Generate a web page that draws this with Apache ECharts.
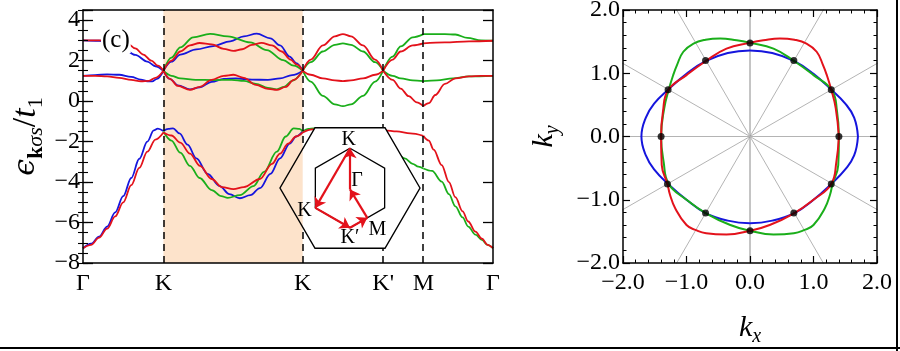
<!DOCTYPE html>
<html><head><meta charset="utf-8">
<script src="https://cdn.jsdelivr.net/npm/echarts@6/dist/echarts.min.js"></script>
<style>html,body{margin:0;padding:0;background:#fff}#c{width:900px;height:351px}</style>
</head><body><div id="c"></div>
<script>
// ---------------- data: band structure (left panel) ----------------
const pathPos = [0, 1, 2.732, 3.732, 4.232, 5.098];
const pathNames = ['Γ', 'K', 'K', "K'", 'M', 'Γ'];
const shadedFrom = 1, shadedTo = 2.732;
const energyMin = -8, energyMax = 4.5;

const blueBands = [
  [[0,3.0],[0.2,2.98],[0.35,2.85],[0.5,2.6],[0.65,2.28],[0.8,1.95],[0.9,1.72],[1.0,1.5]],
  [[0,1.25],[0.15,1.28],[0.3,1.32],[0.45,1.3],[0.6,1.2],[0.72,1.06],[0.8,0.98],[0.86,0.97],[0.92,1.1],[1.0,1.5]],
  [[1.0,1.5],[1.1,1.95],[1.21,2.3],[1.41,2.55],[1.62,2.72],[1.83,2.95],[2.0,3.2],[2.16,3.33],[2.33,3.1],[2.45,2.75],[2.57,2.2],[2.65,1.88],[2.732,1.5]],
  [[1.0,1.5],[1.08,1.1],[1.18,0.78],[1.33,0.58],[1.45,0.68],[1.6,0.95],[1.75,1.1],[1.9,1.12],[2.1,1.06],[2.3,1.05],[2.45,1.12],[2.6,1.28],[2.732,1.5]],
  [[0,-7.27],[0.1,-7.05],[0.2,-6.7],[0.3,-6.2],[0.4,-5.5],[0.5,-4.7],[0.6,-3.8],[0.7,-2.85],[0.8,-2.0],[0.88,-1.45],[0.93,-1.36],[1.0,-1.48]],
  [[1.0,-1.48],[1.06,-1.37],[1.12,-1.35],[1.2,-1.6],[1.3,-2.15],[1.41,-2.83],[1.55,-3.6],[1.7,-4.2],[1.82,-4.6],[1.95,-4.8],[2.08,-4.65],[2.2,-4.3],[2.33,-3.6],[2.45,-2.83],[2.57,-2.1],[2.65,-1.75],[2.732,-1.5]]
];
const greenBands = [
  [[1.0,1.5],[1.1,2.15],[1.21,2.65],[1.37,3.15],[1.58,3.32],[1.8,3.2],[2.08,2.9],[2.285,2.52],[2.49,2.02],[2.62,1.75],[2.732,1.5]],
  [[1.0,1.5],[1.1,1.25],[1.21,1.12],[1.4,1.05],[1.62,1.04],[1.85,1.05],[2.0,1.0],[2.15,0.85],[2.3,0.65],[2.41,0.58],[2.5,0.7],[2.6,1.0],[2.732,1.5]],
  [[2.732,1.5],[2.832,1.92],[2.982,2.45],[3.132,2.78],[3.232,2.85],[3.332,2.78],[3.482,2.45],[3.632,1.92],[3.732,1.5]],
  [[2.732,1.5],[2.832,0.96],[2.982,0.26],[3.132,-0.16],[3.232,-0.25],[3.332,-0.16],[3.482,0.26],[3.632,0.96],[3.732,1.5]],
  [[3.732,1.5],[3.85,2.2],[3.95,2.7],[4.1,3.15],[4.232,3.31]],
  [[4.232,3.31],[4.5,3.31],[4.63,3.29],[4.78,3.12],[4.95,3.0],[5.098,2.98]],
  [[3.732,1.5],[3.85,1.25],[3.95,1.12],[4.1,1.02],[4.232,0.99]],
  [[4.232,0.99],[4.4,1.02],[4.6,1.12],[4.8,1.22],[5.098,1.25]],
  [[1.0,-1.5],[1.1,-1.95],[1.21,-2.55],[1.33,-3.2],[1.45,-3.8],[1.6,-4.4],[1.72,-4.7],[1.8,-4.78],[1.95,-4.65],[2.12,-4.2],[2.25,-3.5],[2.41,-2.5],[2.52,-1.75],[2.62,-1.35],[2.69,-1.37],[2.732,-1.5]],
  [[2.732,-1.5],[2.8,-1.37],[2.87,-1.35],[3.0,-1.42],[3.2,-1.6],[3.4,-1.85],[3.6,-2.1],[3.75,-2.3],[3.88,-2.5],[4.0,-2.83],[4.1,-3.1],[4.17,-3.24],[4.232,-3.33]],
  [[4.232,-3.33],[4.34,-3.45],[4.46,-3.98],[4.55,-4.6],[4.63,-5.2],[4.72,-5.75],[4.79,-6.2],[4.88,-6.6],[4.96,-6.86],[5.03,-7.1],[5.098,-7.27]]
];
const redBands = [
  [[0,3.0],[0.2,3.0],[0.4,2.97],[0.55,2.85],[0.65,2.6],[0.75,2.3],[0.85,2.0],[0.93,1.75],[1.0,1.5]],
  [[0,1.25],[0.15,1.25],[0.3,1.22],[0.45,1.15],[0.6,1.05],[0.72,0.98],[0.82,1.0],[0.9,1.15],[1.0,1.5]],
  [[1.0,1.5],[1.1,2.0],[1.21,2.45],[1.33,2.75],[1.45,2.87],[1.6,2.8],[1.75,2.58],[1.87,2.48],[1.98,2.56],[2.1,2.78],[2.22,2.88],[2.35,2.75],[2.47,2.45],[2.58,2.05],[2.66,1.8],[2.732,1.5]],
  [[1.0,1.5],[1.08,1.1],[1.18,0.75],[1.33,0.55],[1.45,0.7],[1.6,1.05],[1.75,1.25],[1.87,1.3],[2.0,1.15],[2.15,0.8],[2.3,0.6],[2.41,0.55],[2.52,0.7],[2.62,1.05],[2.732,1.5]],
  [[2.732,1.5],[2.832,2.05],[2.982,2.75],[3.132,3.2],[3.232,3.31],[3.332,3.2],[3.482,2.75],[3.632,2.05],[3.732,1.5]],
  [[2.732,1.5],[2.832,1.3],[2.982,1.12],[3.132,1.02],[3.232,0.99],[3.332,1.02],[3.482,1.12],[3.632,1.3],[3.732,1.5]],
  [[3.732,1.5],[3.85,1.05],[3.95,0.62],[4.05,0.24],[4.15,-0.06],[4.232,-0.25]],
  [[4.232,-0.25],[4.3,-0.1],[4.38,0.3],[4.5,0.85],[4.63,1.12],[4.8,1.22],[4.95,1.25],[5.098,1.25]],
  [[3.732,1.5],[3.85,2.05],[3.95,2.45],[4.1,2.75],[4.232,2.85]],
  [[4.232,2.85],[4.5,2.9],[4.8,2.95],[5.098,2.98]],
  [[0,-7.27],[0.1,-7.1],[0.2,-6.75],[0.3,-6.3],[0.4,-5.7],[0.5,-5.0],[0.6,-4.15],[0.7,-3.3],[0.8,-2.5],[0.9,-1.9],[1.0,-1.55]],
  [[1.0,-1.55],[1.1,-1.7],[1.21,-2.05],[1.33,-2.6],[1.455,-3.2],[1.6,-3.85],[1.73,-4.25],[1.87,-4.35],[2.0,-4.25],[2.2,-3.85],[2.35,-3.1],[2.45,-2.6],[2.55,-2.1],[2.65,-1.75],[2.732,-1.55]],
  [[2.732,-1.55],[2.85,-1.4],[3.0,-1.35],[3.3,-1.38],[3.6,-1.42],[3.75,-1.45],[3.9,-1.5],[4.07,-1.6],[4.232,-1.72]],
  [[4.232,-1.72],[4.3,-1.95],[4.36,-2.4],[4.46,-3.16],[4.55,-4.0],[4.63,-4.75],[4.72,-5.45],[4.79,-5.95],[4.88,-6.45],[4.96,-6.8],[5.03,-7.1],[5.098,-7.27]]
];

// ---------------- data: Fermi contours (right panel) ----------------
const kTicks = [-2, -1, 0, 1, 2];
const fsBlue = [[1.70,0],[1.64,0.30],[1.50,0.52],[1.28,0.74],[1.00,0.99],[0.70,1.19],[0.35,1.32],[0,1.36],[-0.35,1.32],[-0.70,1.19],[-1.00,0.99],[-1.29,0.74],[-1.51,0.52],[-1.64,0.30],[-1.71,0],[-1.64,-0.30],[-1.51,-0.52],[-1.29,-0.75],[-1.00,-1.00],[-0.70,-1.21],[-0.35,-1.33],[0,-1.37],[0.35,-1.33],[0.70,-1.21],[1.00,-1.00],[1.28,-0.75],[1.50,-0.52],[1.64,-0.30],[1.70,0]];
const fsRed = [[1.40,0],[1.35,0.45],[1.28,0.74],[1.21,0.97],[1.15,1.13],[1.05,1.34],[0.89,1.47],[0.70,1.53],[0.47,1.55],[0.21,1.52],[0,1.48],[-0.37,1.39],[-0.70,1.19],[-1.00,0.97],[-1.29,0.73],[-1.37,0.40],[-1.40,0],[-1.39,-0.45],[-1.30,-0.75],[-1.26,-0.92],[-1.18,-1.13],[-1.00,-1.40],[-0.85,-1.48],[-0.69,-1.53],[-0.37,-1.55],[0,-1.49],[0.31,-1.40],[0.70,-1.21],[1.00,-1.00],[1.28,-0.75],[1.36,-0.40],[1.40,0]];
const fsGreen = [[1.40,0],[1.37,0.40],[1.29,0.73],[1.00,0.97],[0.70,1.19],[0.37,1.39],[0,1.48],[-0.21,1.52],[-0.47,1.55],[-0.70,1.53],[-0.89,1.47],[-1.05,1.34],[-1.15,1.13],[-1.21,0.97],[-1.28,0.74],[-1.35,0.45],[-1.40,0],[-1.36,-0.40],[-1.28,-0.75],[-1.00,-1.00],[-0.70,-1.21],[-0.31,-1.40],[0,-1.49],[0.37,-1.55],[0.69,-1.53],[0.85,-1.48],[1.00,-1.40],[1.18,-1.13],[1.26,-0.92],[1.30,-0.75],[1.39,-0.45],[1.40,0]];
const fsDots = [[1.40,0],[1.28,0.74],[0.69,1.20],[0,1.48],[-0.70,1.20],[-1.29,0.74],[-1.40,0],[-1.30,-0.75],[-0.70,-1.21],[0,-1.49],[0.69,-1.21],[1.28,-0.75]];
const guideAngles = [0, 30, 60, 90, 120, 150];

// ---------------- inset: Brillouin zone ----------------
const outerHex = [[1,0],[0.5,0.866],[-0.5,0.866],[-1,0],[-0.5,-0.866],[0.5,-0.866]];
const innerHex = [[0,0.571],[0.495,0.286],[0.495,-0.286],[0,-0.571],[-0.495,-0.286],[-0.495,0.286]];
const bzPath = [[0,-0.02],[0,0.571],[-0.495,-0.286],[0,-0.571],[0.2475,-0.4285],[0,-0.02]];
const bzLabels = [['K',-0.02,0.70],['Γ',0.10,0.10],['K',-0.65,-0.33],['K′',0,-0.72],['M',0.39,-0.60]];

// ---------------- layout / style ----------------
const SERIF = "Liberation Serif";
const RED = '#e3121b', GREEN = '#1aae1a', BLUE = '#1515dd', SHADE = '#fde3cb';
const L0 = 83, T0 = 10, W0 = 410, H0 = 253;
const L1 = 623, T1 = 10, W1 = 254, H1 = 253;
const LI = 280, TI = 127.7, WI = 140, HI = 120.6;
const minus = v => (v < 0 ? '−' + (-v) : String(v));

const chart = echarts.init(document.getElementById('c'));
const series = [];

series.push({type:'line', xAxisIndex:0, yAxisIndex:0, data:[[shadedFrom, energyMin]], symbol:'none', lineStyle:{opacity:0}, z:1, silent:true,
  markArea:{silent:true, itemStyle:{color:SHADE}, data:[[{xAxis:shadedFrom},{xAxis:shadedTo}]]}});
series.push({type:'line', xAxisIndex:0, yAxisIndex:0, data:[[shadedFrom, energyMin]], symbol:'none', lineStyle:{opacity:0}, z:2, silent:true,
  markLine:{silent:true, symbol:['none','none'], label:{show:false}, lineStyle:{color:'#000', type:[7,5], width:1.5},
    data: pathPos.slice(1,5).map(v => ({xAxis:v}))}});

function bands(list, color) {
  list.forEach(seg => series.push({type:'line', xAxisIndex:0, yAxisIndex:0, data:seg, symbol:'none', smooth:0.35, smoothMonotone:'x',
    lineStyle:{color, width:1.8}, z:3, silent:true}));
}
bands(blueBands, BLUE); bands(greenBands, GREEN); bands(redBands, RED);

guideAngles.forEach(a => {
  const c = Math.cos(a*Math.PI/180), s = Math.sin(a*Math.PI/180);
  series.push({type:'line', xAxisIndex:2, yAxisIndex:4, data:[[-3*c,-3*s],[3*c,3*s]], symbol:'none', clip:true,
    lineStyle:{color: a===90 ? '#8a8a8a' : '#b4b4b4', width:1}, z:1, silent:true});
});
[[fsBlue,BLUE],[fsGreen,GREEN],[fsRed,RED]].forEach(([d,col]) => series.push({type:'line', xAxisIndex:2, yAxisIndex:4, data:d, symbol:'none', smooth:0.45,
  lineStyle:{color:col, width:2}, z:3, silent:true}));
series.push({type:'scatter', xAxisIndex:2, yAxisIndex:4, data:fsDots, symbolSize:7, itemStyle:{color:'#000'}, z:5, silent:true});

series.push({type:'custom', coordinateSystem:'cartesian2d', xAxisIndex:4, yAxisIndex:6, data:[[0,0]], z:10, silent:true, clip:false,
  renderItem: (params, api) => {
    const o = outerHex.map(p => api.coord(p));
    const inr = innerHex.map(p => api.coord(p));
    const kPx = L0 + (shadedTo - pathPos[0]) / (pathPos[5] - pathPos[0]) * W0;
    const v0 = o[3], v1 = o[2], v5 = o[4];
    const t = (kPx - v0[0]) / (v1[0] - v0[0]);
    const a = [v0[0] + t*(v1[0]-v0[0]), v0[1] + t*(v1[1]-v0[1])];
    const b = [v0[0] + t*(v5[0]-v0[0]), v0[1] + t*(v5[1]-v0[1])];
    const children = [
      {type:'polygon', shape:{points:o}, style:{fill:'#fff'}},
      {type:'polygon', shape:{points:[v0,a,b]}, style:{fill:SHADE}},
      {type:'polygon', shape:{points:o}, style:{fill:'transparent', stroke:'#000', lineWidth:1.4}},
      {type:'polygon', shape:{points:inr}, style:{fill:'transparent', stroke:'#000', lineWidth:1.3}}
    ];
    bzLabels.forEach(l => {
      const p = api.coord([l[1], l[2]]);
      children.push({type:'text', x:p[0], y:p[1], z2:20, style:{text:l[0], fontFamily:SERIF, fontSize:20, fill:'#000', align:'center', verticalAlign:'middle'}});
    });
    return {type:'group', children};
  }});
const arrowData = [];
for (let i = 0; i < bzPath.length - 1; i++) arrowData.push({coords:[bzPath[i], bzPath[i+1]]});
series.push({type:'lines', coordinateSystem:'cartesian2d', xAxisIndex:4, yAxisIndex:6, data:arrowData, symbol:['none','arrow'], symbolSize:10,
  lineStyle:{color:RED, width:2.2, opacity:1}, z:12, silent:true});

const axisLine = {show:true, onZero:false, lineStyle:{color:'#000', width:1.5}};
const lbl = {color:'#000', fontFamily:SERIF, fontSize:24};
const it = (size, lh, extra) => Object.assign({fontFamily:SERIF, fontStyle:'italic', fontSize:size, lineHeight:lh, color:'#000'}, extra || {});
const sub = {verticalAlign:'bottom'};

const option = {
  animation:false,
  backgroundColor:'#fff',
  textStyle:{fontFamily:SERIF},
  grid:[
    {left:L0, top:T0, width:W0, height:H0, outerBoundsMode:'none'},
    {left:L1, top:T1, width:W1, height:H1, outerBoundsMode:'none'},
    {left:LI, top:TI, width:WI, height:HI, outerBoundsMode:'none'}
  ],
  xAxis:[
    {gridIndex:0, type:'value', min:pathPos[0], max:pathPos[5], position:'bottom', z:10, axisLine, axisTick:{show:false}, splitLine:{show:false},
      axisLabel:{...lbl, margin:9, customValues:pathPos, formatter:v => { const i = pathPos.findIndex(p => Math.abs(p-v) < 1e-6); return i >= 0 ? pathNames[i] : ''; }}},
    {gridIndex:0, type:'value', min:pathPos[0], max:pathPos[5], position:'top', z:10, axisLine, axisTick:{show:false}, axisLabel:{show:false}, splitLine:{show:false}},
    {gridIndex:1, type:'value', min:-2, max:2, interval:1, position:'bottom', z:10, axisLine,
      axisTick:{show:true, inside:true, length:7, lineStyle:{color:'#000', width:1.2}},
      minorTick:{show:true, splitNumber:5, length:3.5, lineStyle:{color:'#000', width:1}},
      splitLine:{show:false}, minorSplitLine:{show:false},
      axisLabel:{...lbl, margin:8, formatter:v => (v < 0 ? '−' + (-v).toFixed(1) : v.toFixed(1))},
      name:'{k|k}{s|x}', nameLocation:'middle', nameGap:46,
      nameTextStyle:{fontFamily:SERIF, fontStyle:'italic', fontSize:30, color:'#000', rich:{k:it(30,38), s:it(20,18,sub)}}},
    {gridIndex:1, type:'value', min:-2, max:2, interval:1, position:'top', z:10, axisLine,
      axisTick:{show:true, inside:true, length:7, lineStyle:{color:'#000', width:1.2}},
      minorTick:{show:true, splitNumber:5, length:3.5, lineStyle:{color:'#000', width:1}},
      splitLine:{show:false}, axisLabel:{show:false}},
    {gridIndex:2, type:'value', min:-1, max:1, show:false}
  ],
  yAxis:[
    {gridIndex:0, type:'value', min:energyMin, max:energyMax, interval:2, position:'left', z:10, axisLine,
      axisTick:{show:true, inside:true, length:10, lineStyle:{color:'#000', width:1.3}}, splitLine:{show:false},
      axisLabel:{...lbl, margin:3, formatter:v => (v % 2 === 0 ? minus(v) : '')},
      name:'{e|ϵ}{b|k}{c|σs}{a|/}{t|t}{o|1}', nameLocation:'middle', nameRotate:90, nameGap:36,
      nameTextStyle:{fontFamily:SERIF, fontSize:34, color:'#000', rich:{
        e:it(34,42,{fontFamily:'DejaVu Serif', fontSize:30}), b:it(22,18,{fontStyle:'normal', fontWeight:'bold', verticalAlign:'bottom'}), c:it(22,18,sub),
        a:it(34,42,{fontStyle:'normal'}), t:it(34,42), o:it(22,18,{fontStyle:'normal', verticalAlign:'bottom'})}}},
    {gridIndex:0, type:'value', min:energyMin, max:energyMax, interval:0.5, position:'left', z:10, axisLine:{show:false},
      axisTick:{show:true, inside:true, length:5, lineStyle:{color:'#000', width:1.1}}, splitLine:{show:false}, axisLabel:{show:false}},
    {gridIndex:0, type:'value', min:energyMin, max:energyMax, interval:2, position:'right', z:10, axisLine,
      axisTick:{show:true, inside:true, length:10, lineStyle:{color:'#000', width:1.3}}, splitLine:{show:false}, axisLabel:{show:false}},
    {gridIndex:0, type:'value', min:energyMin, max:energyMax, interval:0.5, position:'right', z:10, axisLine:{show:false},
      axisTick:{show:true, inside:true, length:5, lineStyle:{color:'#000', width:1.1}}, splitLine:{show:false}, axisLabel:{show:false}},
    {gridIndex:1, type:'value', min:-2, max:2, interval:1, position:'left', z:10, axisLine,
      axisTick:{show:true, inside:true, length:7, lineStyle:{color:'#000', width:1.2}},
      minorTick:{show:true, splitNumber:5, length:3.5, lineStyle:{color:'#000', width:1}},
      splitLine:{show:false}, axisLabel:{...lbl, margin:3, formatter:v => (v < 0 ? '−' + (-v).toFixed(1) : v.toFixed(1))},
      name:'{k|k}{s|y}', nameLocation:'middle', nameRotate:90, nameGap:60,
      nameTextStyle:{fontFamily:SERIF, fontStyle:'italic', fontSize:30, color:'#000', rich:{k:it(30,38), s:it(20,18,sub)}}},
    {gridIndex:1, type:'value', min:-2, max:2, interval:1, position:'right', z:10, axisLine,
      axisTick:{show:true, inside:true, length:7, lineStyle:{color:'#000', width:1.2}},
      minorTick:{show:true, splitNumber:5, length:3.5, lineStyle:{color:'#000', width:1}},
      splitLine:{show:false}, axisLabel:{show:false}},
    {gridIndex:2, type:'value', min:-0.866, max:0.866, show:false}
  ],
  graphic:[
    {type:'text', left:101, top:28, z:50, style:{text:'(c)', fontFamily:SERIF, fontSize:25, fill:'#000', backgroundColor:'#fff', padding:[0,1,0,1]}},
    {type:'line', z:50, shape:{x1:0, y1:348, x2:900, y2:348}, style:{stroke:'#000', lineWidth:2}},
    {type:'line', z:50, shape:{x1:897, y1:0, x2:897, y2:351}, style:{stroke:'#000', lineWidth:2}}
  ],
  series
};
chart.setOption(option);
</script>
</body></html>
